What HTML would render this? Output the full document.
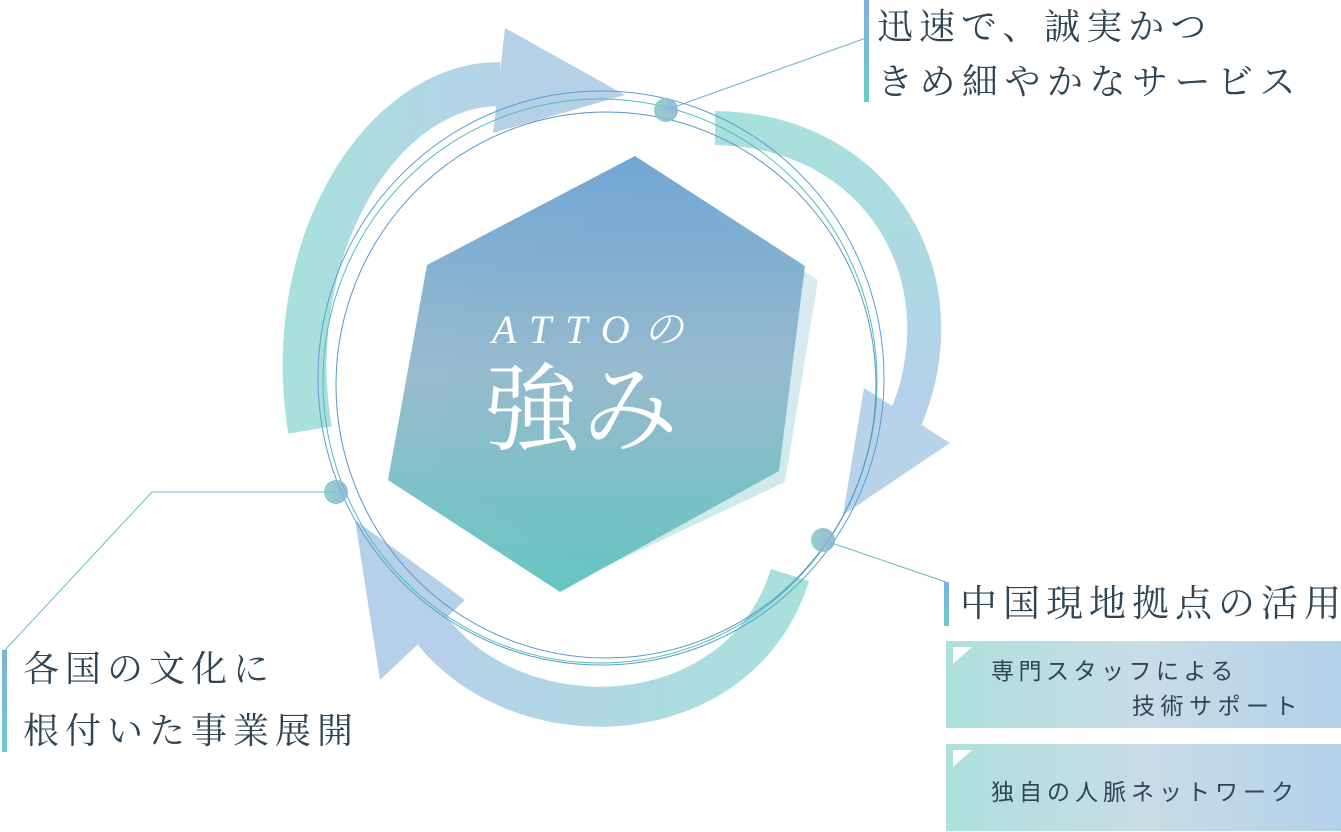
<!DOCTYPE html>
<html><head><meta charset="utf-8"><style>
html,body{margin:0;padding:0;background:#fff;}
body{width:1341px;height:832px;overflow:hidden;position:relative;}
svg{position:absolute;left:0;top:0;}
</style></head><body>
<svg width="1341" height="832" viewBox="0 0 1341 832" xmlns="http://www.w3.org/2000/svg">
<defs>
<linearGradient id="hex1" x1="0" y1="0" x2="0" y2="1"><stop offset="0" stop-color="#6aa2d2"/><stop offset="0.5" stop-color="#93b8cc"/><stop offset="1" stop-color="#5fc3bf"/></linearGradient>
<linearGradient id="hex2" x1="0" y1="0" x2="0" y2="1"><stop offset="0" stop-color="#cfe0ee" stop-opacity="0.7"/><stop offset="1" stop-color="#bfe6e3" stop-opacity="0.8"/></linearGradient>
<linearGradient id="a1" x1="0" y1="0" x2="1" y2="0"><stop offset="0" stop-color="#a8e0dc"/><stop offset="1" stop-color="#b6d2ea"/></linearGradient>
<linearGradient id="a2" x1="0" y1="0" x2="0" y2="1"><stop offset="0" stop-color="#a8e0dc"/><stop offset="1" stop-color="#b4d0ea"/></linearGradient>
<linearGradient id="a3" x1="1" y1="0" x2="0" y2="0"><stop offset="0" stop-color="#a8e0dc"/><stop offset="1" stop-color="#b6d0ea"/></linearGradient>
<linearGradient id="bar" x1="0" y1="0" x2="0" y2="1"><stop offset="0" stop-color="#7fb0dc"/><stop offset="1" stop-color="#6cccc4"/></linearGradient>
<linearGradient id="box" x1="0" y1="0" x2="1" y2="0"><stop offset="0" stop-color="#ade0dc"/><stop offset="0.5" stop-color="#c9dce6"/><stop offset="1" stop-color="#b3d1ea"/></linearGradient>
<linearGradient id="dot" x1="0" y1="0" x2="1" y2="0"><stop offset="0" stop-color="#7fc9c4"/><stop offset="1" stop-color="#86aed6"/></linearGradient>
</defs>
<path d="M310 430 C280 250 380 84 500 84" fill="none" stroke="url(#a1)" stroke-width="44"/>
<polygon points="505,28 625,95 493,133" fill="#b6d0e8"/>
<path d="M715 128 C880 130 965 280 905 420" fill="none" stroke="url(#a2)" stroke-width="34"/>
<polygon points="864,388 950,443 843,515" fill="#b8d2ea"/>
<path d="M790 575 C740 735 520 745 430 628" fill="none" stroke="url(#a3)" stroke-width="40"/>
<polygon points="355,520 465,600 380,680" fill="#b6d0ea"/>
<polygon points="662,183 818,280 785,482 592,573 434,475 469,280" fill="url(#hex2)"/>
<polygon points="635,156 805,266 779,471 560,592 388,480 427,265" fill="url(#hex1)" opacity="0.95"/>
<ellipse cx="601" cy="378" rx="283" ry="287" fill="none" stroke="#5a9fd0" stroke-width="1"/>
<ellipse cx="600" cy="381" rx="277" ry="282" fill="none" stroke="#4fbfb5" stroke-width="1"/>
<ellipse cx="606" cy="385" rx="270" ry="273" fill="none" stroke="#5a94c8" stroke-width="1"/>
<polyline points="666,110 866,38" fill="none" stroke="#6cb4c8" stroke-width="1"/>
<polyline points="336,492 152,492 5,650" fill="none" stroke="#6cbcc4" stroke-width="1"/>
<polyline points="823,540 946,582" fill="none" stroke="#5fbfb8" stroke-width="1"/>
<circle cx="666" cy="110" r="12" fill="url(#dot)" opacity="0.85"/>
<circle cx="336" cy="492" r="12" fill="url(#dot)" opacity="0.85"/>
<circle cx="823" cy="540" r="12" fill="url(#dot)" opacity="0.85"/>
<rect x="864" y="0" width="5" height="102" fill="url(#bar)"/>
<rect x="2" y="650" width="5" height="102" fill="url(#bar)"/>
<rect x="944" y="582" width="5" height="44" fill="url(#bar)"/>
<rect x="946" y="641" width="395" height="87" fill="url(#box)"/>
<rect x="946" y="744" width="395" height="87" fill="url(#box)"/>
<polygon points="953,647 972,647 953,664" fill="#fff"/>
<polygon points="953,750 972,750 953,767" fill="#fff"/>
<g font-family="'Liberation Serif','Noto Serif CJK SC',serif" fill="#2f4554">
<text x="877" y="39" font-size="36" letter-spacing="6">迅速で、誠実かつ</text>
<text x="877" y="94" font-size="36" letter-spacing="6.5">きめ細やかなサービス</text>
<text x="960" y="616" letter-spacing="6" font-size="37">中国現地拠点の活用</text>
<text x="23" y="681" font-size="36" letter-spacing="6">各国の文化に</text>
<text x="23" y="743" font-size="36" letter-spacing="6">根付いた事業展開</text>
</g>
<g font-family="'Liberation Sans','Noto Sans CJK JP',sans-serif" fill="#2f4554" font-size="23">
<text x="991" y="679" letter-spacing="4.5">専門スタッフによる</text>
<text x="1132" y="714" letter-spacing="5.5">技術サポート</text>
<text x="991" y="800" letter-spacing="5">独自の人脈ネットワーク</text>
</g>
<g font-family="'Liberation Serif','Noto Serif CJK SC',serif" fill="#fff">
<text x="492" y="343" font-size="40" font-style="italic" letter-spacing="14">ATTOの</text>
<text x="484" y="443" font-size="96" letter-spacing="2">強み</text>
</g>
</svg>
</body></html>
